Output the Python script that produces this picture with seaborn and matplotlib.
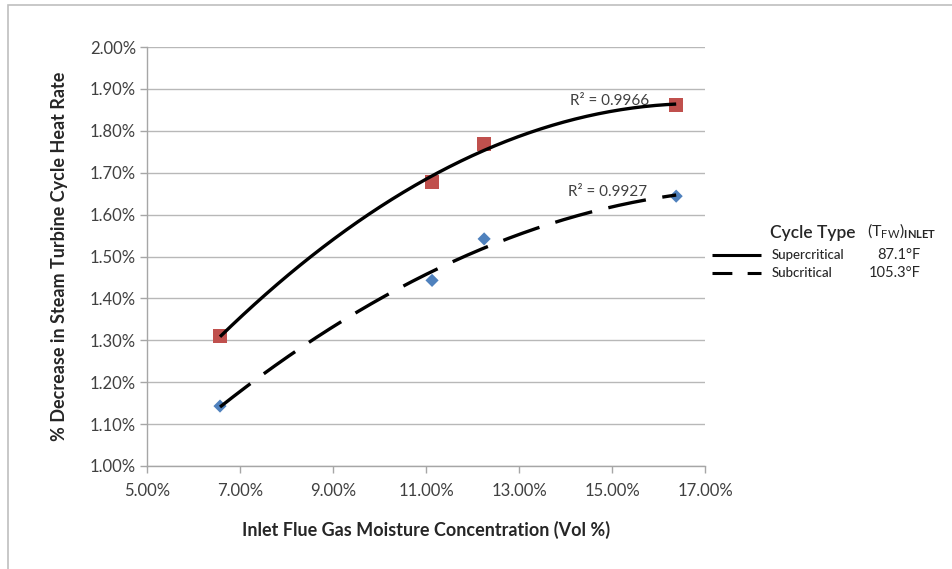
import numpy as np
import pandas as pd
import matplotlib
matplotlib.use("Agg")
import matplotlib.pyplot as plt
from matplotlib.lines import Line2D
from matplotlib.patches import Rectangle
from matplotlib.ticker import FuncFormatter, MultipleLocator, FixedLocator
import seaborn as sns

# ---- data ----
moisture_super = [6.57, 11.13, 12.25, 16.38]      # Vol %
heatrate_super = [1.31, 1.678, 1.768, 1.862]      # % decrease
moisture_sub = [6.57, 11.13, 12.25, 16.38]
heatrate_sub = [1.143, 1.443, 1.542, 1.644]
x_ticks = [5, 7, 9, 11, 13, 15, 17]
r2_labels = ["R² = 0.9966", "R² = 0.9927"]
legend_names = ["Supercritical", "Subcritical"]
legend_temps = ["87.1°F", "105.3°F"]

sns.set_theme(style="white")
plt.rcParams['font.family'] = ['Lato', 'DejaVu Sans']
plt.rcParams['mathtext.fontset'] = 'custom'
plt.rcParams['mathtext.rm'] = 'Lato'
plt.rcParams['mathtext.bf'] = 'Lato:bold'

W, H = 952, 569
fig = plt.figure(figsize=(W / 100, H / 100), dpi=100)
ax = fig.add_axes([147 / W, 1 - 466 / H, (705 - 147) / W, (466 - 47) / H])

df_sup = pd.DataFrame({"x": moisture_super, "y": heatrate_super})
df_sub = pd.DataFrame({"x": moisture_sub, "y": heatrate_sub})

# polynomial (order 2) trendlines
def trend(df):
    c = np.polyfit(df["x"], df["y"], 2)
    xs = np.linspace(df["x"].min(), df["x"].max(), 200)
    return pd.DataFrame({"x": xs, "y": np.polyval(c, xs)})

t_sup = trend(df_sup)
t_sub = trend(df_sub)

sns.scatterplot(data=df_sup, x="x", y="y", marker="s", s=105, color="#C0504D",
                edgecolor="none", ax=ax, zorder=3)
sns.scatterplot(data=df_sub, x="x", y="y", marker="D", s=45, color="#4F81BD",
                edgecolor="none", ax=ax, zorder=3)
sns.lineplot(data=t_sup, x="x", y="y", color="black", lw=2.4, ax=ax, zorder=4)
sns.lineplot(data=t_sub, x="x", y="y", color="black", lw=2.4, ax=ax, zorder=4)
ax.lines[-1].set_dashes((11.5, 5))
for ln in ax.lines:
    ln.set_solid_capstyle('butt')

ax.set_xlim(5, 17)
ax.set_ylim(1.0, 2.0)
ax.xaxis.set_major_locator(FixedLocator(x_ticks))
ax.yaxis.set_major_locator(MultipleLocator(0.1))
ax.xaxis.set_major_formatter(FuncFormatter(lambda v, p: f"{v:.2f}%"))
ax.yaxis.set_major_formatter(FuncFormatter(lambda v, p: f"{v:.2f}%"))
ax.grid(axis="y", color="#B8B8B8", lw=1.0)
ax.set_axisbelow(True)
for s in ["top", "right"]:
    ax.spines[s].set_visible(False)
for s in ["left", "bottom"]:
    ax.spines[s].set_color("#A6A6A6")
    ax.spines[s].set_linewidth(1.0)
ax.tick_params(axis="both", which="major", direction="out", length=5, width=1,
               color="#A6A6A6", labelsize=12, labelcolor="#404040", pad=3,
               bottom=True, left=True)
ax.tick_params(axis="x", pad=7)

ax.set_xlabel("Inlet Flue Gas Moisture Concentration (Vol %)", fontsize=13,
              fontweight="bold", color="#262626", labelpad=16)
ax.set_ylabel("% Decrease in Steam Turbine Cycle Heat Rate", fontsize=13,
              fontweight="bold", color="#262626", labelpad=16)

ax.text(14.95, 1.855, r2_labels[0], fontsize=11, color="#404040", ha="center", va="bottom")
ax.text(14.9, 1.637, r2_labels[1], fontsize=11, color="#404040", ha="center", va="bottom")

# custom legend outside the axes
def fx(px):
    return px / W

def fy(py):
    return 1 - py / H

fig.text(fx(813), fy(233), "Cycle Type", fontsize=12.5, color="#262626",
         ha="center", va="center", fontweight="semibold")
fig.text(fx(902), fy(231), r"(T$_{\mathrm{FW}}$)$_{\mathbf{INLET}}$", fontsize=11.5,
         color="#262626", ha="center", va="center")
rows_y = [255, 273]
for i, (nm, tp) in enumerate(zip(legend_names, legend_temps)):
    ln = Line2D([fx(712), fx(761)], [fy(rows_y[i]), fy(rows_y[i])], color="black",
                lw=2.2, transform=fig.transFigure, solid_capstyle='butt')
    if i == 1:
        ln.set_dashes((6.5, 5))
    fig.add_artist(ln)
    fig.text(fx(772), fy(rows_y[i]), nm, fontsize=9.5, color="#262626",
             ha="left", va="center", fontweight="medium")
    fig.text(fx(921), fy(rows_y[i]), tp, fontsize=10.5, color="#262626",
             ha="right", va="center")

# chart frame
fig.add_artist(Rectangle((8 / W, -0.1), 1.1, 1 - 5 / H + 0.1, transform=fig.transFigure,
                         fill=False, edgecolor="#BFBFBF", lw=1.2))

fig.savefig("out.png", dpi=100)
